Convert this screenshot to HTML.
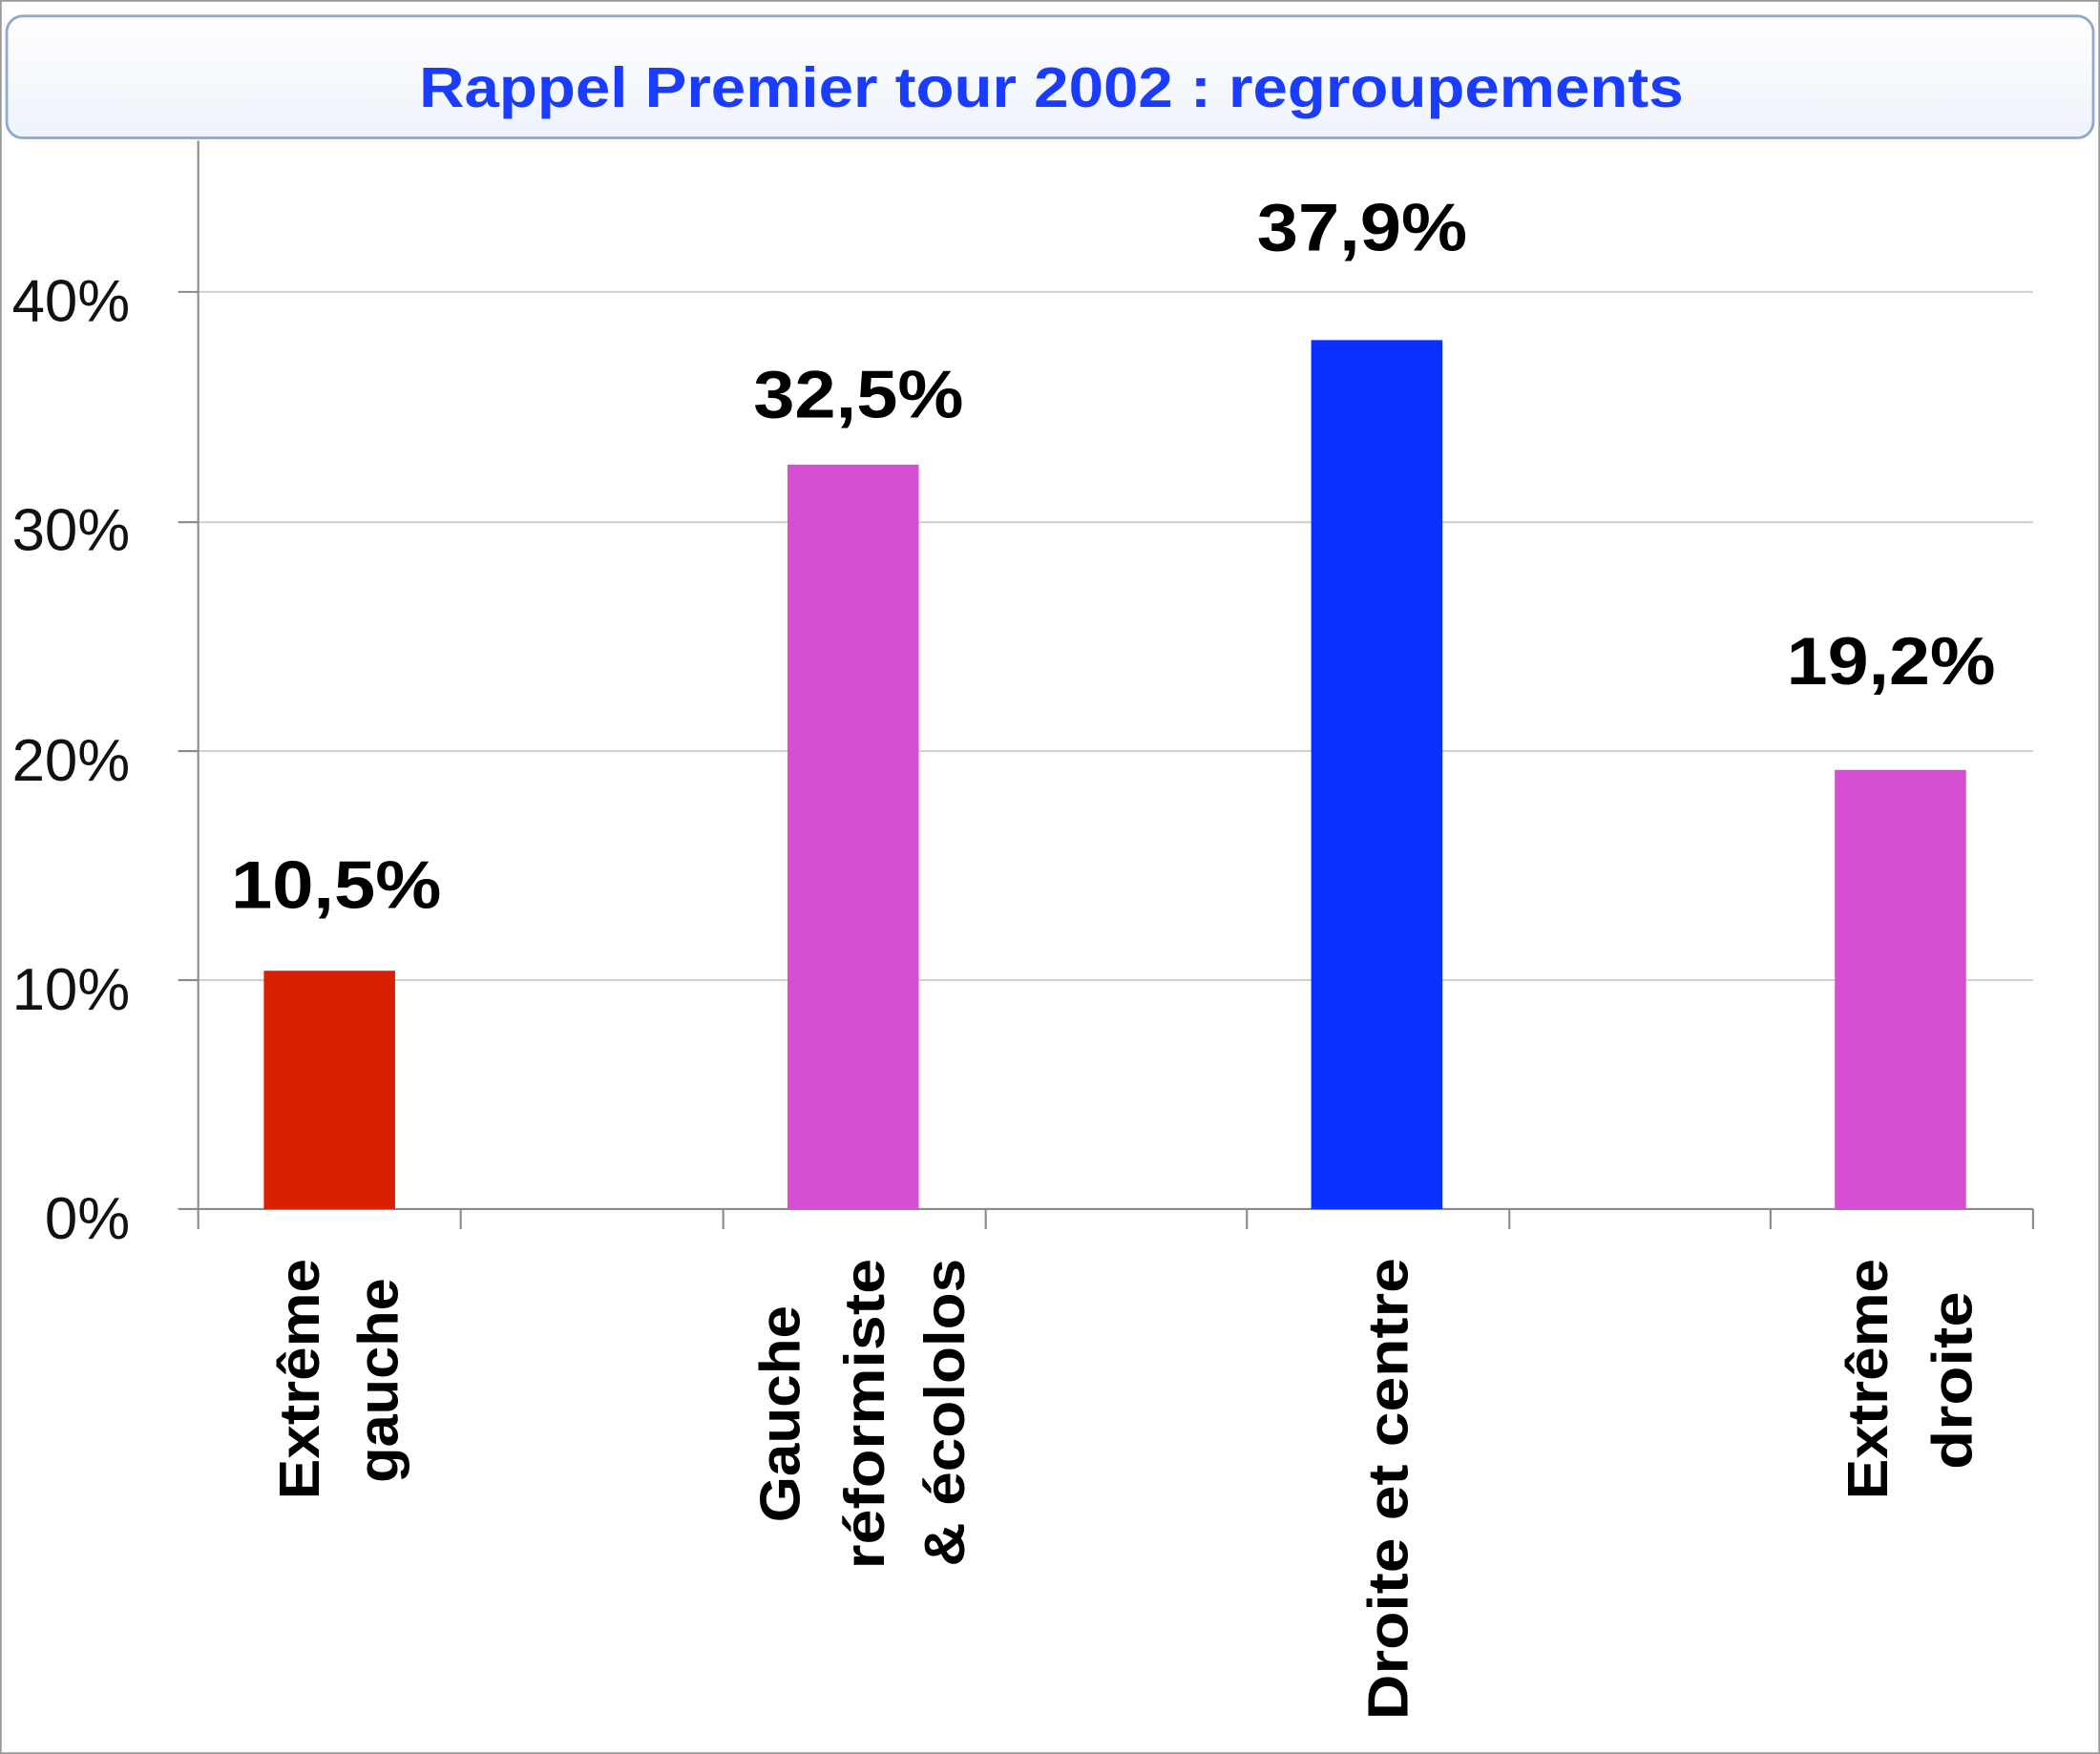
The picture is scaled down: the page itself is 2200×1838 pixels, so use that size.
<!DOCTYPE html>
<html><head><meta charset="utf-8"><style>html,body{margin:0;padding:0;background:#fff}svg{display:block}</style></head>
<body>
<svg width="2200" height="1838" viewBox="0 0 1568 1310" preserveAspectRatio="none" xmlns="http://www.w3.org/2000/svg" font-family="'Liberation Sans', sans-serif">
<defs><linearGradient id="g" x1="0" y1="0" x2="0" y2="1"><stop offset="0" stop-color="#ffffff"/><stop offset="1" stop-color="#eef3fb"/></linearGradient></defs>
<rect x="0.5" y="0.5" width="1567" height="1309" fill="#fff" stroke="#9a9a9a" stroke-width="1.5"/>
<rect x="5" y="12" width="1558" height="91" rx="12" fill="url(#g)" stroke="#8fa8cc" stroke-width="2"/>
<text x="785" y="80" font-size="42" font-weight="bold" fill="#1a3cff" text-anchor="middle" textLength="944" lengthAdjust="spacingAndGlyphs">Rappel Premier tour 2002 : regroupements</text>
<g stroke="#d0d0d0" stroke-width="1.5">
<line x1="148" y1="218" x2="1518" y2="218"/><line x1="148" y1="390" x2="1518" y2="390"/><line x1="148" y1="561" x2="1518" y2="561"/><line x1="148" y1="732" x2="1518" y2="732"/>
</g>
<g stroke="#8a8a8a" stroke-width="1.5">
<line x1="148" y1="105" x2="148" y2="918"/><line x1="133" y1="903" x2="1518" y2="903"/>
<line x1="133" y1="218" x2="148" y2="218"/><line x1="133" y1="390" x2="148" y2="390"/><line x1="133" y1="561" x2="148" y2="561"/><line x1="133" y1="732" x2="148" y2="732"/>
<line x1="344" y1="903" x2="344" y2="918"/><line x1="540" y1="903" x2="540" y2="918"/><line x1="736" y1="903" x2="736" y2="918"/><line x1="931" y1="903" x2="931" y2="918"/><line x1="1127" y1="903" x2="1127" y2="918"/><line x1="1322" y1="903" x2="1322" y2="918"/><line x1="1518" y1="903" x2="1518" y2="918"/>
</g>
<g font-size="44" fill="#111" text-anchor="end">
<text x="97" y="240">40%</text><text x="97" y="411">30%</text><text x="97" y="583">20%</text><text x="97" y="754">10%</text><text x="97" y="925">0%</text>
</g>
<rect x="197" y="725" width="98" height="178" fill="#d92000"/>
<rect x="588" y="347" width="98" height="556" fill="#d64fd2"/>
<rect x="979" y="254" width="98" height="649" fill="#0a30ff"/>
<rect x="1370" y="575" width="98" height="328" fill="#d64fd2"/>
<g font-size="50" font-weight="bold" fill="#000" text-anchor="middle">
<text x="251" y="678" textLength="157" lengthAdjust="spacingAndGlyphs">10,5%</text>
<text x="641" y="312" textLength="157" lengthAdjust="spacingAndGlyphs">32,5%</text>
<text x="1017" y="187" textLength="157" lengthAdjust="spacingAndGlyphs">37,9%</text>
<text x="1412" y="511" textLength="156" lengthAdjust="spacingAndGlyphs">19,2%</text>
</g>
<g font-size="42" font-weight="bold" fill="#000" text-anchor="middle">
<text transform="translate(238,1030) rotate(-90)" textLength="180" lengthAdjust="spacingAndGlyphs">Extrême</text>
<text transform="translate(297,1031) rotate(-90)" textLength="153" lengthAdjust="spacingAndGlyphs">gauche</text>
<text transform="translate(597,1056) rotate(-90)" textLength="162" lengthAdjust="spacingAndGlyphs">Gauche</text>
<text transform="translate(660,1056) rotate(-90)" textLength="232" lengthAdjust="spacingAndGlyphs">réformiste</text>
<text transform="translate(720,1055) rotate(-90)" textLength="230" lengthAdjust="spacingAndGlyphs">&amp; écololos</text>
<text transform="translate(1051,1112) rotate(-90)" textLength="345" lengthAdjust="spacingAndGlyphs">Droite et centre</text>
<text transform="translate(1409,1030) rotate(-90)" textLength="180" lengthAdjust="spacingAndGlyphs">Extrême</text>
<text transform="translate(1472,1031) rotate(-90)" textLength="133" lengthAdjust="spacingAndGlyphs">droite</text>
</g>
</svg>
</body></html>
